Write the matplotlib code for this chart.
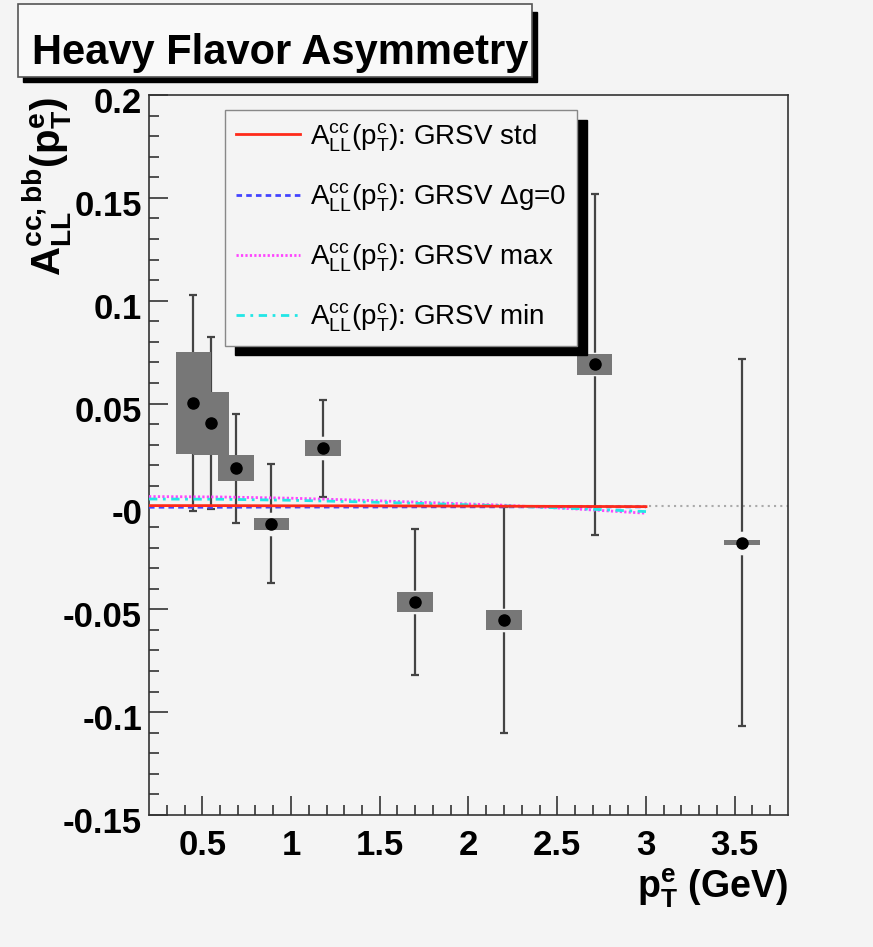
import matplotlib
matplotlib.use('Agg')
import matplotlib.pyplot as plt
from matplotlib import font_manager
from matplotlib.patches import Rectangle
from matplotlib.transforms import ScaledTranslation

# data
pt = [0.45, 0.55, 0.69, 0.89, 1.18, 1.70, 2.20, 2.71, 3.54]
all_val = [0.0502, 0.0404, 0.0186, -0.0084, 0.0283, -0.0466, -0.0552, 0.0691, -0.0176]
stat_err = [0.0524, 0.0418, 0.0265, 0.0289, 0.0235, 0.0355, 0.0548, 0.0828, 0.0893]
sys_err = [0.0248, 0.0154, 0.0063, 0.0030, 0.0040, 0.0048, 0.0047, 0.0052, 0.0013]

th_pt = [0.2, 0.6, 1.0, 1.4, 1.8, 2.2, 2.6, 3.0]
grsv_std = [0.0004, 0.0004, 0.0003, 0.0003, 0.0002, 0.0001, 0.0000, -0.0001]
grsv_dg0 = [-0.0004, -0.0004, -0.0003, -0.0003, -0.0002, -0.0002, -0.0002, -0.0002]
grsv_max = [0.0048, 0.0046, 0.0040, 0.0030, 0.0018, 0.0006, -0.0012, -0.0033]
grsv_min = [0.0036, 0.0035, 0.0030, 0.0022, 0.0013, 0.0003, -0.0010, -0.0025]

xticks = [0.5, 1, 1.5, 2, 2.5, 3, 3.5]
xtick_labels = ['0.5', '1', '1.5', '2', '2.5', '3', '3.5']
yticks = [0.2, 0.15, 0.1, 0.05, 0, -0.05, -0.1, -0.15]
ytick_labels = ['0.2', '0.15', '0.1', '0.05', '-0', '-0.05', '-0.1', '-0.15']

leg_labels = [r'$\mathregular{A_{LL}^{cc}(p_{T}^{c})}$: GRSV std',
              r'$\mathregular{A_{LL}^{cc}(p_{T}^{c})}$: GRSV Δg=0',
              r'$\mathregular{A_{LL}^{cc}(p_{T}^{c})}$: GRSV max',
              r'$\mathregular{A_{LL}^{cc}(p_{T}^{c})}$: GRSV min']

BG = '#f4f4f4'
W, H = 873, 947

plt.rcParams['font.family'] = ['Liberation Sans', 'DejaVu Sans']
plt.rcParams['mathtext.fontset'] = 'custom'
plt.rcParams['mathtext.rm'] = 'Liberation Sans'
plt.rcParams['mathtext.it'] = 'Liberation Sans'
plt.rcParams['mathtext.bf'] = 'Liberation Sans:bold'

names = {f.name for f in font_manager.fontManager.ttflist}
if 'Liberation Sans Narrow' in names:
    title_font, title_size = 'Liberation Sans Narrow', 36
else:
    title_font, title_size = 'Liberation Sans', 30

fig = plt.figure(figsize=(W / 100, H / 100), dpi=100, facecolor=BG)
ax = fig.add_axes([149 / W, 1 - 815 / H, (788 - 149) / W, (815 - 95) / H])
ax.set_facecolor(BG)

# zero reference line
ax.axhline(0, color='#aaaaaa', ls=(0, (1, 2)), lw=1.5, zorder=1)

# statistical error bars, with a gap round the marker like ROOT
ax.errorbar(pt, all_val, yerr=stat_err, fmt='none', ecolor='#444444',
            elinewidth=1.6, capsize=3.2, capthick=1.6, zorder=2)
ax.plot(pt, all_val, 'o', ms=16, color=BG, zorder=3)

# systematic boxes
sys_bottom = [v - s for v, s in zip(all_val, sys_err)]
sys_height = [2 * s for s in sys_err]
ax.bar(pt, sys_height, bottom=sys_bottom, width=0.2, color='#777777', zorder=4)
ax.plot(pt, all_val, 'o', ms=8, color='black', zorder=5)

# theory curves
l1, = ax.plot(th_pt, grsv_std, color='#ff2a1a', lw=2, zorder=7)
l2, = ax.plot(th_pt, grsv_dg0, color='#4444ff', lw=2, ls=(0, (2, 1.5)), zorder=6)
l3, = ax.plot(th_pt, grsv_max, color='#ff44ff', lw=2, ls=(0, (0.8, 0.8)), zorder=6)
l4, = ax.plot(th_pt, grsv_min, color='#22e6e6', lw=2, ls=(0, (3, 2, 1, 2)), zorder=6)

ax.set_xlim(0.2, 3.8)
ax.set_ylim(-0.15, 0.2)
ax.set_xticks(xticks)
ax.set_xticklabels(xtick_labels)
ax.set_yticks(yticks)
ax.set_yticklabels(ytick_labels)
ax.set_xticks([0.3 + 0.1 * i for i in range(35)], minor=True)
ax.set_yticks([-0.15 + 0.01 * i for i in range(36)], minor=True)
ax.tick_params(which='both', direction='in', top=False, right=False, width=1.2, color='#333333')
ax.tick_params(which='major', length=14)
ax.tick_params(which='minor', length=7)
ax.tick_params(axis='x', pad=10)
ax.tick_params(axis='y', pad=5)
shift_down = ScaledTranslation(0, -5 / 100, fig.dpi_scale_trans)
for lab in ax.get_xticklabels() + ax.get_yticklabels():
    lab.set_fontsize(25)
    lab.set_fontweight('bold')
for lab in ax.get_yticklabels():
    lab.set_transform(lab.get_transform() + shift_down)
for sp in ax.spines.values():
    sp.set_linewidth(1.2)
    sp.set_color('#333333')

leg = fig.legend([l1, l2, l3, l4], leg_labels, loc='upper left',
                 bbox_to_anchor=(225 / W, 1 - 110 / H), bbox_transform=fig.transFigure,
                 borderaxespad=0, fontsize=20, handlelength=2.3, handletextpad=0.35,
                 labelspacing=1.0, borderpad=0.4, fancybox=False, framealpha=1,
                 facecolor=BG, edgecolor='#888888',
                 shadow={'ox': 7, 'oy': -7, 'color': 'black', 'alpha': 1})
leg.set_zorder(10)

# axis titles
fig.text(788 / W, 1 - 866 / H, r'$\mathregular{p_{T}^{e}}$ (GeV)', ha='right', va='top',
         fontsize=27, fontweight='bold')
fig.text(47 / W, 1 - 97 / H, r'$\mathregular{A_{LL}^{cc,bb}(p_{T}^{e})}$', rotation=90,
         ha='center', va='top', fontsize=29, fontweight='bold')

# title box with shadow
fig.patches.append(Rectangle((23 / W, 1 - 82 / H), 514 / W, 70 / H, transform=fig.transFigure,
                             facecolor='black', edgecolor='black', zorder=1))
fig.patches.append(Rectangle((18 / W, 1 - 77 / H), 514 / W, 73 / H, transform=fig.transFigure,
                             facecolor='#f9f9f9', edgecolor='#555555', lw=1.2, zorder=2))
fig.text(32 / W, 1 - 64 / H, 'Heavy Flavor Asymmetry', ha='left', va='baseline',
         family=title_font, fontsize=title_size, fontweight='bold', zorder=3)

plt.savefig('out.png', dpi=100, facecolor=BG)
plt.close()
